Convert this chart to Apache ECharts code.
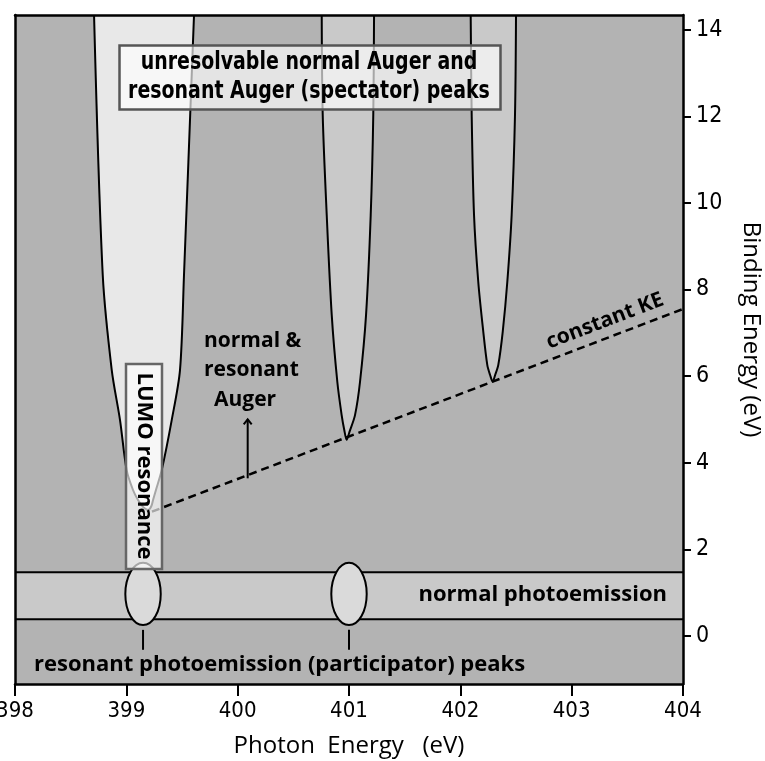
<!DOCTYPE html>
<html>
<head>
<meta charset="utf-8">
<script src="https://cdn.jsdelivr.net/npm/echarts@6/dist/echarts.min.js"></script>
<style>
html,body{margin:0;padding:0;background:#fff;}
#chart{width:765px;height:761px;}
</style>
</head>
<body>
<div id="chart"></div>
<script>
// ---- axis ranges / ticks ----
const photonRange = [398, 404];
const bindingRange = [-1.11, 14.34];
const bindingTicks = [0, 2, 4, 6, 8, 10, 12, 14];

// ---- Auger peak outlines [photon energy, binding energy] (left edge top->bottom, right edge bottom->top) ----
const lumoPeak = [
  [398.710, 14.34], [398.788, 8.34], [398.869, 6.14], [398.943, 4.99], [399.003, 3.83],
  [399.060, 3.37], [399.105, 3.14], [399.150, 2.98], [399.197, 2.91], [399.225, 3.00],
  [399.240, 3.14], [399.266, 3.37], [399.318, 3.83], [399.408, 4.99], [399.482, 6.14],
  [399.518, 8.34], [399.608, 14.34]
];
const peak401 = [
  [400.755, 14.34], [400.764, 12.03], [400.800, 9.72], [400.845, 7.41], [400.895, 5.87],
  [400.934, 5.10], [400.958, 4.75], [400.979, 4.53], [401.005, 4.72], [401.054, 5.10],
  [401.099, 5.87], [401.153, 7.41], [401.195, 9.72], [401.218, 12.03], [401.225, 14.34]
];
const peak4023 = [
  [402.093, 14.34], [402.102, 12.03], [402.123, 9.72], [402.161, 8.18], [402.206, 7.03],
  [402.242, 6.26], [402.268, 6.02], [402.291, 5.87], [402.312, 6.02], [402.341, 6.26],
  [402.381, 7.03], [402.422, 8.18], [402.461, 9.72], [402.491, 12.03], [402.500, 14.34]
];

// ---- normal photoemission band (binding energy limits) ----
const photoBand = [0.385, 1.47];

// ---- participator peaks: centre photon energy, centre BE, half widths ----
const participatorX = [399.15, 401.0];
const participatorY = 0.97;
const participatorHalfX = 0.159;
const participatorHalfY = 0.72;
const participatorMarkY = [0.14, -0.32];

// ---- constant kinetic energy line ----
const constantKE = [[399.23, 2.87], [404, 7.55]];

// ---- arrow "normal & resonant Auger" ----
const augerArrow = [[400.09, 3.64], [400.09, 5.0]];

const chart = echarts.init(document.getElementById('chart'));

const boldFont = "'Open Sans', 'Noto Sans', sans-serif";
const condFont = "'DejaVu Sans Condensed', 'Roboto', sans-serif";

function peakSeries(points, fill) {
  return {
    type: 'custom', coordinateSystem: 'cartesian2d', xAxisIndex: 0, yAxisIndex: 0,
    silent: true, z: 2, clip: true,
    data: [points[0]],
    renderItem: function (params, api) {
      const pts = points.map(p => api.coord(p));
      return {
        type: 'group', children: [
          { type: 'polygon', shape: { points: pts }, style: { fill: fill, stroke: null } },
          { type: 'polyline', shape: { points: pts, smooth: 0.3 }, style: { fill: null, stroke: '#000', lineWidth: 2 } }
        ]
      };
    }
  };
}

const bandSeries = {
  type: 'custom', coordinateSystem: 'cartesian2d', xAxisIndex: 0, yAxisIndex: 0,
  silent: true, z: 3,
  data: [[photonRange[0], photoBand[1]]],
  renderItem: function (params, api) {
    const tl = api.coord([photonRange[0], photoBand[1]]);
    const br = api.coord([photonRange[1], photoBand[0]]);
    const children = [
      { type: 'rect', shape: { x: tl[0], y: tl[1], width: br[0] - tl[0], height: br[1] - tl[1] }, style: { fill: '#c9c9c9' } },
      { type: 'line', shape: { x1: tl[0], y1: tl[1], x2: br[0], y2: tl[1] }, style: { stroke: '#000', lineWidth: 2 } },
      { type: 'line', shape: { x1: tl[0], y1: br[1], x2: br[0], y2: br[1] }, style: { stroke: '#000', lineWidth: 2 } }
    ];
    participatorX.forEach(function (x) {
      const c = api.coord([x, participatorY]);
      const s = api.size([participatorHalfX, participatorHalfY]);
      children.push({ type: 'ellipse', shape: { cx: c[0], cy: c[1], rx: s[0], ry: s[1] }, style: { fill: '#dadada', stroke: '#000', lineWidth: 2 } });
      const m1 = api.coord([x, participatorMarkY[0]]);
      const m2 = api.coord([x, participatorMarkY[1]]);
      children.push({ type: 'line', shape: { x1: m1[0], y1: m1[1], x2: m2[0], y2: m2[1] }, style: { stroke: '#000', lineWidth: 2 } });
    });
    return { type: 'group', children: children };
  }
};

const arrowSeries = {
  type: 'custom', coordinateSystem: 'cartesian2d', xAxisIndex: 0, yAxisIndex: 0,
  silent: true, z: 5,
  data: [augerArrow[0]],
  renderItem: function (params, api) {
    const a = api.coord(augerArrow[0]);
    const b = api.coord(augerArrow[1]);
    return {
      type: 'group', children: [
        { type: 'line', shape: { x1: a[0], y1: a[1], x2: b[0], y2: b[1] }, style: { stroke: '#000', lineWidth: 2 } },
        { type: 'polyline', shape: { points: [[b[0] - 4, b[1] + 5], [b[0], b[1]], [b[0] + 4, b[1] + 5]] }, style: { fill: null, stroke: '#000', lineWidth: 2 } }
      ]
    };
  }
};

const hiddenAxisCommon = { axisLabel: { show: false }, axisTick: { show: false }, splitLine: { show: false } };

const option = {
  animation: false,
  backgroundColor: '#ffffff',
  grid: { left: 15, right: 82, top: 15, bottom: 77, show: true, backgroundColor: '#b3b3b3', borderWidth: 0,
    containLabel: false, outerBoundsMode: 'none' },
  xAxis: [
    {
      type: 'value', min: photonRange[0], max: photonRange[1], interval: 1, position: 'bottom', z: 10,
      axisLine: { show: true, onZero: false, lineStyle: { color: '#000', width: 2.5 } },
      axisTick: { show: true, inside: false, length: 12, lineStyle: { color: '#000', width: 2 } },
      axisLabel: { color: '#000', fontSize: 22, fontFamily: condFont, margin: 16 },
      splitLine: { show: false },
      name: 'Photon  Energy   (eV)', nameLocation: 'middle', nameGap: 50,
      nameTextStyle: { color: '#000', fontSize: 24, fontFamily: boldFont }
    },
    Object.assign({
      type: 'value', min: photonRange[0], max: photonRange[1], position: 'top', z: 10,
      axisLine: { show: true, onZero: false, lineStyle: { color: '#000', width: 2.5 } }
    }, hiddenAxisCommon)
  ],
  yAxis: [
    {
      type: 'value', min: bindingRange[0], max: bindingRange[1], position: 'right', z: 10,
      axisLine: { show: true, onZero: false, lineStyle: { color: '#000', width: 2.5 } },
      axisTick: { show: true, inside: false, length: 8, customValues: bindingTicks, lineStyle: { color: '#000', width: 2 } },
      axisLabel: { color: '#000', fontSize: 23, fontFamily: condFont, margin: 13, customValues: bindingTicks },
      splitLine: { show: false },
      name: 'Binding Energy (eV)', nameLocation: 'middle', nameRotate: -90, nameGap: 56,
      nameTextStyle: { color: '#000', fontSize: 24, fontFamily: boldFont, padding: [0, 40, 0, 0] }
    },
    Object.assign({
      type: 'value', min: bindingRange[0], max: bindingRange[1], position: 'left', z: 10,
      axisLine: { show: true, onZero: false, lineStyle: { color: '#000', width: 2.5 } }
    }, hiddenAxisCommon)
  ],
  series: [
    peakSeries(lumoPeak, '#e8e8e8'),
    peakSeries(peak401, '#c9c9c9'),
    peakSeries(peak4023, '#c9c9c9'),
    bandSeries,
    {
      type: 'line', xAxisIndex: 0, yAxisIndex: 0, data: constantKE, symbol: 'none', silent: true, z: 4,
      lineStyle: { color: '#000', width: 2.5, type: [8, 5] }
    },
    arrowSeries
  ],
  graphic: [
    { type: 'rect', z: 100, shape: { x: 119.5, y: 45.5, width: 381, height: 64 },
      style: { fill: 'rgba(255,255,255,0.65)', stroke: '#555', lineWidth: 2.5 } },
    { type: 'text', z: 101, x: 309, y: 77, scaleX: 0.878,
      style: { text: 'unresolvable normal Auger and\nresonant Auger (spectator) peaks', align: 'center', verticalAlign: 'middle',
        font: "bold 24px 'DejaVu Sans Condensed', sans-serif", lineHeight: 29, fill: '#000' } },
    { type: 'rect', z: 100, shape: { x: 126, y: 364, width: 36, height: 205 },
      style: { fill: 'rgba(255,255,255,0.65)', stroke: '#666', lineWidth: 2.5 } },
    { type: 'text', z: 101, x: 144, y: 466, rotation: -Math.PI / 2,
      style: { text: 'LUMO resonance', align: 'center', verticalAlign: 'middle', font: "bold 22px 'Open Sans', sans-serif", fill: '#000' } },
    { type: 'text', z: 101, x: 204, y: 341,
      style: { text: 'normal &', align: 'left', verticalAlign: 'middle', font: "bold 21px 'Open Sans', sans-serif", fill: '#000' } },
    { type: 'text', z: 101, x: 204, y: 370,
      style: { text: 'resonant', align: 'left', verticalAlign: 'middle', font: "bold 21px 'Open Sans', sans-serif", fill: '#000' } },
    { type: 'text', z: 101, x: 214, y: 400,
      style: { text: 'Auger', align: 'left', verticalAlign: 'middle', font: "bold 21px 'Open Sans', sans-serif", fill: '#000' } },
    { type: 'text', z: 101, x: 605, y: 321, rotation: 0.365,
      style: { text: 'constant KE', align: 'center', verticalAlign: 'middle', font: "bold 21px 'Open Sans', sans-serif", fill: '#000' } },
    { type: 'text', z: 101, x: 667, y: 595,
      style: { text: 'normal photoemission', align: 'right', verticalAlign: 'middle', font: "bold 22px 'Open Sans', sans-serif", fill: '#000' } },
    { type: 'text', z: 101, x: 34, y: 665,
      style: { text: 'resonant photoemission (participator) peaks', align: 'left', verticalAlign: 'middle', font: "bold 22px 'Open Sans', sans-serif", fill: '#000' } }
  ]
};

chart.setOption(option);
</script>
</body>
</html>
